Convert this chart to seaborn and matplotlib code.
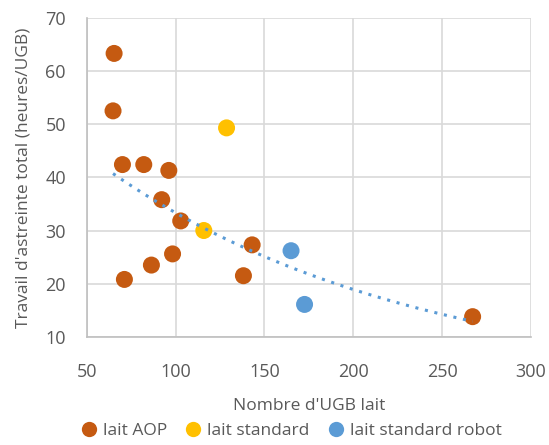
import numpy as np
import pandas as pd
import seaborn as sns
import matplotlib.pyplot as plt

# Values
aop_ugb = [65.4, 64.8, 70.1, 82.1, 96.2, 92.2, 102.9, 143.1, 138.2, 98.3, 86.4, 71.2, 267.2]
aop_travail = [63.3, 52.5, 42.4, 42.4, 41.3, 35.8, 31.8, 27.3, 21.5, 25.6, 23.5, 20.8, 13.8]
std_ugb = [128.7, 115.9]
std_travail = [49.3, 30.0]
robot_ugb = [165.0, 172.6]
robot_travail = [26.2, 16.1]

groups = ["lait AOP", "lait standard", "lait standard robot"]
colors = ["#C55A11", "#FFC000", "#5B9BD5"]

df = pd.DataFrame({
    "ugb": aop_ugb + std_ugb + robot_ugb,
    "travail": aop_travail + std_travail + robot_travail,
    "groupe": [groups[0]] * len(aop_ugb) + [groups[1]] * len(std_ugb) + [groups[2]] * len(robot_ugb),
})

sns.set_theme(style="white")
plt.rcParams["font.family"] = ["Open Sans", "DejaVu Sans"]
text_col = "#595959"

fig = plt.figure(figsize=(5.49, 4.45), dpi=100)
ax = fig.add_axes([0.158, 0.243, 0.809, 0.717])

# exponential trend line (Excel style) over all points
b, ln_a = np.polyfit(df["ugb"], np.log(df["travail"]), 1)
xs = np.linspace(df["ugb"].min(), df["ugb"].max(), 200)
ax.plot(xs, np.exp(ln_a) * np.exp(b * xs), linestyle=(0, (1, 2.2)),
        color="#5B9BD5", linewidth=2.2, zorder=3)

sns.scatterplot(data=df, x="ugb", y="travail", hue="groupe", palette=colors,
                hue_order=groups, s=150, edgecolor="none", ax=ax, zorder=2,
                legend=False)

ax.set_xlim(50, 300)
ax.set_ylim(10, 70)
ax.set_xticks(range(50, 301, 50))
ax.set_yticks(range(10, 71, 10))
ax.grid(True, color="#D9D9D9", linewidth=1.2)
ax.set_axisbelow(True)
for side, sp in ax.spines.items():
    sp.set_visible(side in ("left", "bottom"))
    sp.set_color("#BFBFBF")
    sp.set_linewidth(1.2)
ax.tick_params(axis="both", length=0, labelsize=13, labelcolor=text_col)
ax.tick_params(axis="y", pad=15)
ax.tick_params(axis="x", pad=19)
ax.set_xlabel("Nombre d'UGB lait", fontsize=12.5, color=text_col, labelpad=12)
ax.set_ylabel("Travail d'astreinte total (heures/UGB)", fontsize=12.5, color=text_col, labelpad=10)

handles = [plt.Line2D([], [], marker="o", linestyle="none", markersize=11,
                      markerfacecolor=c, markeredgecolor="none") for c in colors]
fig.legend(handles, groups, loc="lower center", ncol=3, frameon=False,
           bbox_to_anchor=(0.53, -0.022), fontsize=12.5, labelcolor=text_col,
           handletextpad=0.3, columnspacing=1.0, handlelength=1.0)

fig.savefig("out.png", dpi=100, facecolor="white")
